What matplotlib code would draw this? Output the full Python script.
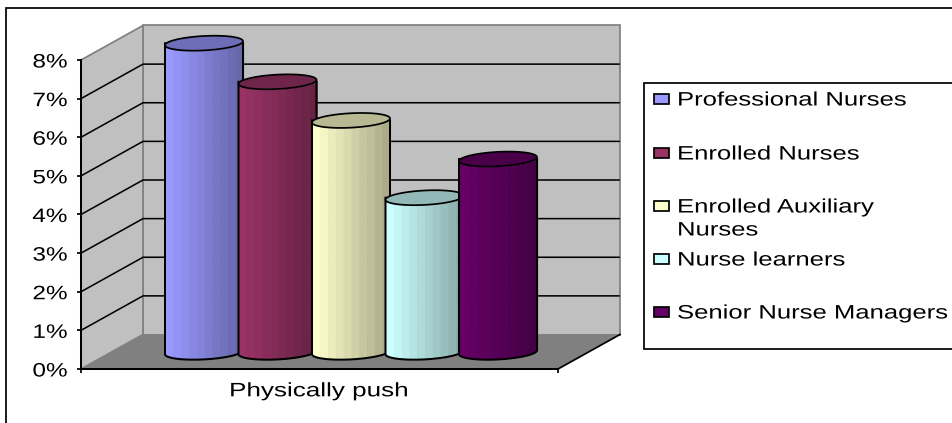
import numpy as np
import matplotlib
matplotlib.use("Agg")
import matplotlib.pyplot as plt
import matplotlib.patheffects as pe
from matplotlib.patches import Polygon, Rectangle
from matplotlib.ticker import FixedLocator, FuncFormatter
from matplotlib.transforms import Affine2D
from matplotlib.colors import to_rgb

category = "Physically push"
series = ["Professional Nurses", "Enrolled Nurses", "Enrolled Auxiliary\nNurses",
          "Nurse learners", "Senior Nurse Managers"]
values = [8, 7, 6, 4, 5]
colors = ["#9999FF", "#993366", "#FFFFCC", "#CCFFFF", "#660066"]
y_ticks = list(range(0, 9))

plt.rcParams["font.family"] = ["Liberation Sans", "DejaVu Sans"]
W, H = 952, 423
fig = plt.figure(figsize=(W / 100, H / 100), dpi=100, facecolor="white")
ax = fig.add_axes([0, 0, 1, 1])
PX = 38.625  # pixels per percentage point
ax.set_xlim(0, W)
ax.set_ylim(-(H - 369) / PX, 369 / PX)
ax.patch.set_visible(False)

FS = 14
STRETCH = 1.32


class StretchX(pe.AbstractPathEffect):
    """The source image is horizontally stretched; widen the glyphs about an anchor."""
    def __init__(self, sx, anchor, shift=0):
        super().__init__()
        self.sx, self.anchor, self.shift = sx, anchor, shift

    def draw_path(self, renderer, gc, tpath, affine, rgbFace=None):
        a = affine + Affine2D().translate(-self.anchor, self.shift).scale(self.sx, 1).translate(self.anchor, 0)
        renderer.draw_path(gc, tpath, a, rgbFace)


LW = 1.25
LW_BAR = 1.45
x_front0, x_front1 = 81, 558
dx = 62
dy = 34.5 / PX
top = y_ticks[-1]

# outer frame (runs off the right and bottom of the picture)
ax.add_patch(Rectangle((6, -(H + 10 - 369) / PX), W + 20, (H + 10 - 8) / PX, fill=False,
                       ec="black", lw=LW, zorder=1, clip_on=True))

# walls and floor
ax.add_patch(Polygon([(x_front0 + dx, dy), (x_front1 + dx, dy), (x_front1 + dx, top + dy), (x_front0 + dx, top + dy)],
                     fc="#C0C0C0", ec="#808080", lw=LW, zorder=1.1))
ax.add_patch(Polygon([(x_front0, 0), (x_front0 + dx, dy), (x_front0 + dx, top + dy), (x_front0, top)],
                     fc="#C0C0C0", ec="#808080", lw=LW, zorder=1.1))
ax.add_patch(Polygon([(x_front0, 0), (x_front1, 0), (x_front1 + dx, dy), (x_front0 + dx, dy)],
                     fc="#808080", ec="none", zorder=1.2))
ax.plot([x_front1, x_front1 + dx], [0, dy], color="black", lw=LW, zorder=1.3)

# gridlines
for v in y_ticks[1:-1]:
    ax.plot([x_front0, x_front0 + dx, x_front1 + dx - 1], [v, v + dy, v + dy], color="black", lw=LW * 0.9, zorder=1.3)

# cylinders
cx0, step, a = 204, 73.5, 39
b, s = 7.2 / PX, 2.0 / PX
base = 16.8 / PX
n_strips = 10
t = np.linspace(0, 2 * np.pi, 73)


def ring(cx, y0, tt):
    return cx + a * np.cos(tt), y0 + b * np.sin(tt) + s * np.cos(tt)


for i, (val, col) in enumerate(zip(values, colors)):
    cx = cx0 + step * i
    z = 3 + i
    rgb = np.array(to_rgb(col))
    tl = np.linspace(np.pi, 2 * np.pi, 73)
    xl, yl = ring(cx, base, tl)
    edges = np.linspace(cx - a, cx + a, n_strips + 1)
    for k in range(n_strips):
        xs = np.linspace(edges[k], edges[k + 1] + 0.6, 8)
        low = np.interp(xs, xl, yl)
        shade = 1 - 0.33 * k / (n_strips - 1)
        ax.fill_between(xs, low, low + val, color=rgb * shade, lw=0, zorder=z)
    ax.plot(np.r_[cx - a, xl, cx + a], np.r_[base + val, yl, base + val], color="black", lw=LW_BAR, zorder=z + 0.1)
    xc, yc = ring(cx, base + val, t)
    ax.add_patch(Polygon(np.c_[xc, yc], fc=rgb * 0.72, ec="black", lw=LW, zorder=z + 0.2))

# axes
for name in ("top", "right"):
    ax.spines[name].set_visible(False)
ax.spines["left"].set_position(("data", x_front0))
ax.spines["left"].set_bounds(0, top)
ax.spines["bottom"].set_position(("data", 0))
ax.spines["bottom"].set_bounds(x_front0, x_front1)
for sp in ("left", "bottom"):
    ax.spines[sp].set_linewidth(LW_BAR)
    ax.spines[sp].set_zorder(2)
ax.yaxis.set_major_locator(FixedLocator(y_ticks))
ax.yaxis.set_major_formatter(FuncFormatter(lambda v, _: f"{int(v)}%"))
ax.tick_params(axis="y", length=3, width=LW, pad=6.5, labelsize=FS)
ax.xaxis.set_major_locator(FixedLocator([(x_front0 + x_front1) / 2]))
ax.set_xticklabels([category])
ax.xaxis.set_minor_locator(FixedLocator([x_front0, x_front1]))
ax.tick_params(axis="x", which="major", length=0, pad=8.5, labelsize=FS)
ax.tick_params(axis="x", which="minor", length=3, width=LW)
for lab in ax.get_yticklabels():
    lab.set_path_effects([StretchX(1.25, 68, -1)])
for lab in ax.get_xticklabels():
    lab.set_path_effects([StretchX(STRETCH + 0.02, (x_front0 + x_front1) / 2, -2.5)])

# legend (box runs off the right edge)
def py(p):
    return (369 - p) / PX


ax.add_patch(Rectangle((644, py(349)), 400, (349 - 83) / PX, fc="white", ec="black", lw=LW, zorder=10))
legend_y = [99, 153, 206, 259, 312]
for name, col, ly in zip(series, colors, legend_y):
    ax.add_patch(Rectangle((654, py(ly + 5)), 14.5, 10 / PX, fc=col, ec="black", lw=LW, zorder=11))
    ax.text(677, py(ly), name.split("\n")[0], fontsize=FS, ha="left", va="center", zorder=11,
            path_effects=[StretchX(STRETCH, 677, -2)])
    if "\n" in name:
        ax.text(677, py(ly + 23), name.split("\n")[1], fontsize=FS, ha="left", va="center", zorder=11,
                path_effects=[StretchX(STRETCH, 677, -2)])

fig.savefig("out.png", dpi=100, facecolor="white")
